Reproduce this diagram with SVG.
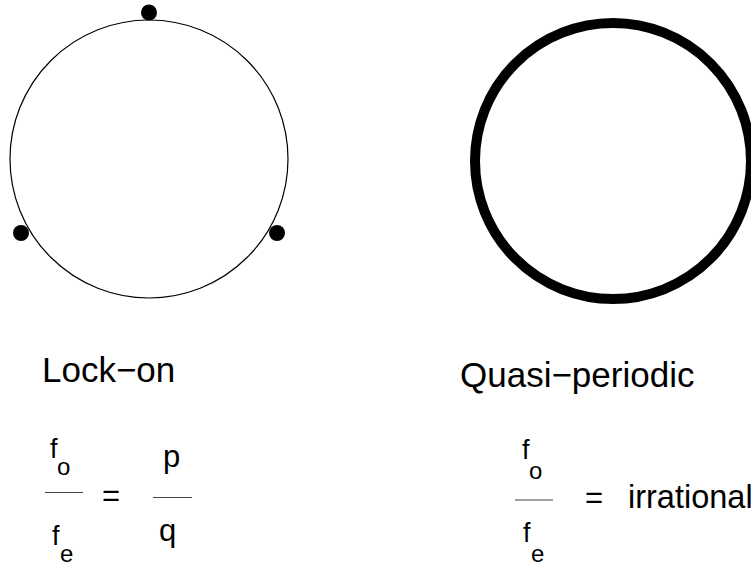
<svg xmlns="http://www.w3.org/2000/svg" width="751" height="571" viewBox="0 0 751 571">
<style>
text{font-family:"Liberation Sans",Arial,sans-serif;fill:#000}
.t{font-size:35px}
.f{font-size:27px}
.s{font-size:24px}
.b{font-size:31px}
.bar{stroke:#444;stroke-width:1.2}
.dot{fill:#000}
</style>
<rect width="751" height="571" fill="#fff"/>
<g id="lockon">
<circle cx="149" cy="159" r="139" fill="none" stroke="#000" stroke-width="1.2"/>
<circle class="dot" cx="149" cy="12.5" r="8"/>
<circle class="dot" cx="21" cy="233" r="8"/>
<circle class="dot" cx="277" cy="233" r="8"/>
<text class="t" x="42" y="381.5">Lock−on</text>
<text class="f" x="50" y="458">f</text>
<text class="s" x="57" y="475">o</text>
<line class="bar" x1="45" y1="492.5" x2="83" y2="492.5"/>
<text class="b" x="102" y="506">=</text>
<text class="b" x="163" y="467">p</text>
<line class="bar" x1="153" y1="497.5" x2="192" y2="497.5"/>
<text class="b" x="159" y="541">q</text>
<text class="f" x="52" y="545">f</text>
<text class="s" x="60" y="562">e</text>
</g>
<g id="quasi">
<circle cx="613" cy="161" r="138" fill="none" stroke="#000" stroke-width="10"/>
<text class="t" x="460" y="387">Quasi−periodic</text>
<text class="f" x="522" y="459">f</text>
<text class="s" x="529" y="479">o</text>
<line class="bar" x1="515" y1="500" x2="553" y2="500"/>
<text class="b" x="585" y="508">=</text>
<text class="b" x="628" y="507.5" style="font-size:32.5px">irrational</text>
<text class="f" x="523" y="542">f</text>
<text class="s" x="531" y="562">e</text>
</g>
</svg>
